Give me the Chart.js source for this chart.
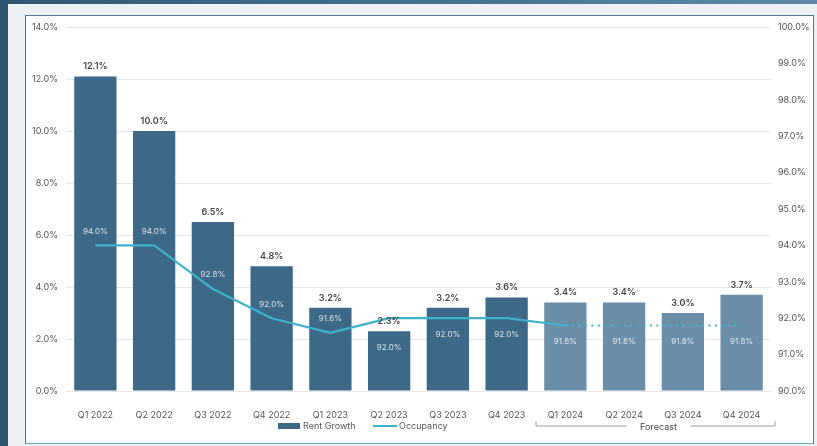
<!DOCTYPE html>
<html>
<head>
<meta charset="utf-8">
<script src="https://cdn.jsdelivr.net/npm/chart.js@4.4.1/dist/chart.umd.min.js"></script>
<style>
  html, body { margin: 0; padding: 0; }
  body { width: 817px; height: 446px; position: relative; overflow: hidden;
         background: linear-gradient(90deg, #2f5670 0, #3f6a88 40%, #5d87a3 100%); }
  .panel { position: absolute; left: 8px; top: 4px; right: 0; bottom: 0; background: #eef1f3; }
  .frame { position: absolute; left: 25px; top: 15px; width: 787px; height: 427px;
           background: #fff; border: 1.5px solid #51778d; border-bottom-color: #62b2bd; }
  #chart { position: absolute; left: 0; top: 0; }
</style>
</head>
<body>
<div class="panel"></div>
<div class="frame"></div>
<canvas id="chart" width="817" height="446"></canvas>
<script>
var quarters = ['Q1 2022', 'Q2 2022', 'Q3 2022', 'Q4 2022', 'Q1 2023', 'Q2 2023',
                'Q3 2023', 'Q4 2023', 'Q1 2024', 'Q2 2024', 'Q3 2024', 'Q4 2024'];
var rentGrowth = [12.1, 10.0, 6.5, 4.8, 3.2, 2.3, 3.2, 3.6, 3.4, 3.4, 3.0, 3.7];
var occupancy = [94.0, 94.0, 92.8, 92.0, 91.6, 92.0, 92.0, 92.0, 91.8, 91.8, 91.8, 91.8];
var occupancyLabelBelow = [false, false, false, false, false, true, true, true, true, true, true, true];
var forecastStart = 8;

var DARK_BAR = '#3d6989';
var LIGHT_BAR = '#6a8ea8';
var LINE_COLOR = '#3cb3cb';
var FONT = 'Inter, "Noto Sans", sans-serif';

var barColors = quarters.map(function(q, i) {
    return i < forecastStart ? DARK_BAR : LIGHT_BAR;
});

// value labels on bars and line, legend and forecast bracket
var annotations = {
    id: 'annotations',
    afterDatasetsDraw: function(chart) {
        var ctx = chart.ctx;
        var bars = chart.getDatasetMeta(1).data;
        var points = chart.getDatasetMeta(0).data;
        ctx.save();
        ctx.textAlign = 'center';
        ctx.textBaseline = 'middle';

        ctx.font = '600 9px ' + FONT;
        ctx.fillStyle = '#444';
        bars.forEach(function(bar, i) {
            ctx.fillText(rentGrowth[i].toFixed(1) + '%', bar.x, bar.y - 10);
        });

        ctx.font = '8px ' + FONT;
        ctx.fillStyle = 'rgba(255,255,255,0.8)';
        points.forEach(function(pt, i) {
            var y;
            if (occupancyLabelBelow[i]) {
                y = Math.max(pt.y + 16, bars[i].y + 16);
            } else {
                y = pt.y - 14;
            }
            ctx.fillText(occupancy[i].toFixed(1) + '%', pt.x, y);
        });
        ctx.restore();
    },
    afterDraw: function(chart) {
        var ctx = chart.ctx;
        var area = chart.chartArea;
        var x = chart.scales.x;
        var ly = area.bottom + 35;
        ctx.save();
        ctx.font = '9px ' + FONT;
        ctx.textBaseline = 'middle';
        ctx.textAlign = 'left';
        ctx.fillStyle = '#555';

        // legend
        var lx = 278;
        ctx.fillStyle = DARK_BAR;
        ctx.fillRect(lx, ly - 3, 22, 6);
        ctx.fillStyle = '#555';
        ctx.fillText('Rent Growth', lx + 25, ly);
        ctx.strokeStyle = LINE_COLOR;
        ctx.lineWidth = 2;
        ctx.beginPath();
        ctx.moveTo(373, ly);
        ctx.lineTo(397, ly);
        ctx.stroke();
        ctx.fillText('Occupancy', 399, ly);

        // forecast bracket
        var half = (x.getPixelForValue(1) - x.getPixelForValue(0)) / 2;
        var bx0 = x.getPixelForValue(forecastStart) - half;
        var bx1 = area.right + 4;
        var mid = (bx0 + bx1) / 2 + 3;
        ctx.strokeStyle = '#9a9a9a';
        ctx.lineWidth = 1;
        ctx.beginPath();
        ctx.moveTo(bx0, ly - 5);
        ctx.lineTo(bx0, ly);
        ctx.lineTo(mid - 32, ly);
        ctx.moveTo(mid + 32, ly);
        ctx.lineTo(bx1, ly);
        ctx.lineTo(bx1, ly - 5);
        ctx.stroke();
        ctx.textAlign = 'center';
        ctx.fillStyle = '#444';
        ctx.fillText('Forecast', mid, ly + 1);
        ctx.restore();
    }
};

new Chart(document.getElementById('chart'), {
    type: 'bar',
    data: {
        labels: quarters,
        datasets: [
            {
                type: 'line',
                label: 'Occupancy',
                data: occupancy,
                yAxisID: 'y1',
                borderColor: LINE_COLOR,
                borderWidth: 2.2,
                pointRadius: 0,
                tension: 0,
                order: 0,
                segment: {
                    borderDash: function(c) { return c.p0DataIndex >= forecastStart ? [2, 4.5] : undefined; }
                }
            },
            {
                type: 'bar',
                label: 'Rent Growth',
                data: rentGrowth,
                yAxisID: 'y',
                backgroundColor: barColors,
                order: 1
            }
        ]
    },
    options: {
        responsive: false,
        animation: false,
        layout: { padding: { top: 27, left: 0, right: 0, bottom: 0 } },
        plugins: { legend: { display: false }, tooltip: { enabled: false } },
        scales: {
            x: {
                grid: { display: false },
                border: { display: false },
                ticks: { color: '#555', font: { family: FONT, size: 9 }, padding: 11, maxRotation: 0 },
                afterFit: function(s) { s.height = 55; }
            },
            y: {
                min: 0, max: 14,
                ticks: {
                    stepSize: 2, color: '#555', padding: 8,
                    font: { family: FONT, size: 9 },
                    callback: function(v) { return v.toFixed(1) + '%'; }
                },
                grid: { color: '#e6e6e6', drawTicks: false },
                border: { display: false },
                afterFit: function(s) { s.width = 66; }
            },
            y1: {
                position: 'right',
                min: 90, max: 100,
                ticks: {
                    stepSize: 1, color: '#555', padding: 7,
                    font: { family: FONT, size: 9 },
                    callback: function(v) { return v.toFixed(1) + '%'; }
                },
                grid: { drawOnChartArea: false, drawTicks: false },
                border: { display: false },
                afterFit: function(s) { s.width = 46; }
            }
        }
    },
    plugins: [annotations]
});
</script>
</body>
</html>
